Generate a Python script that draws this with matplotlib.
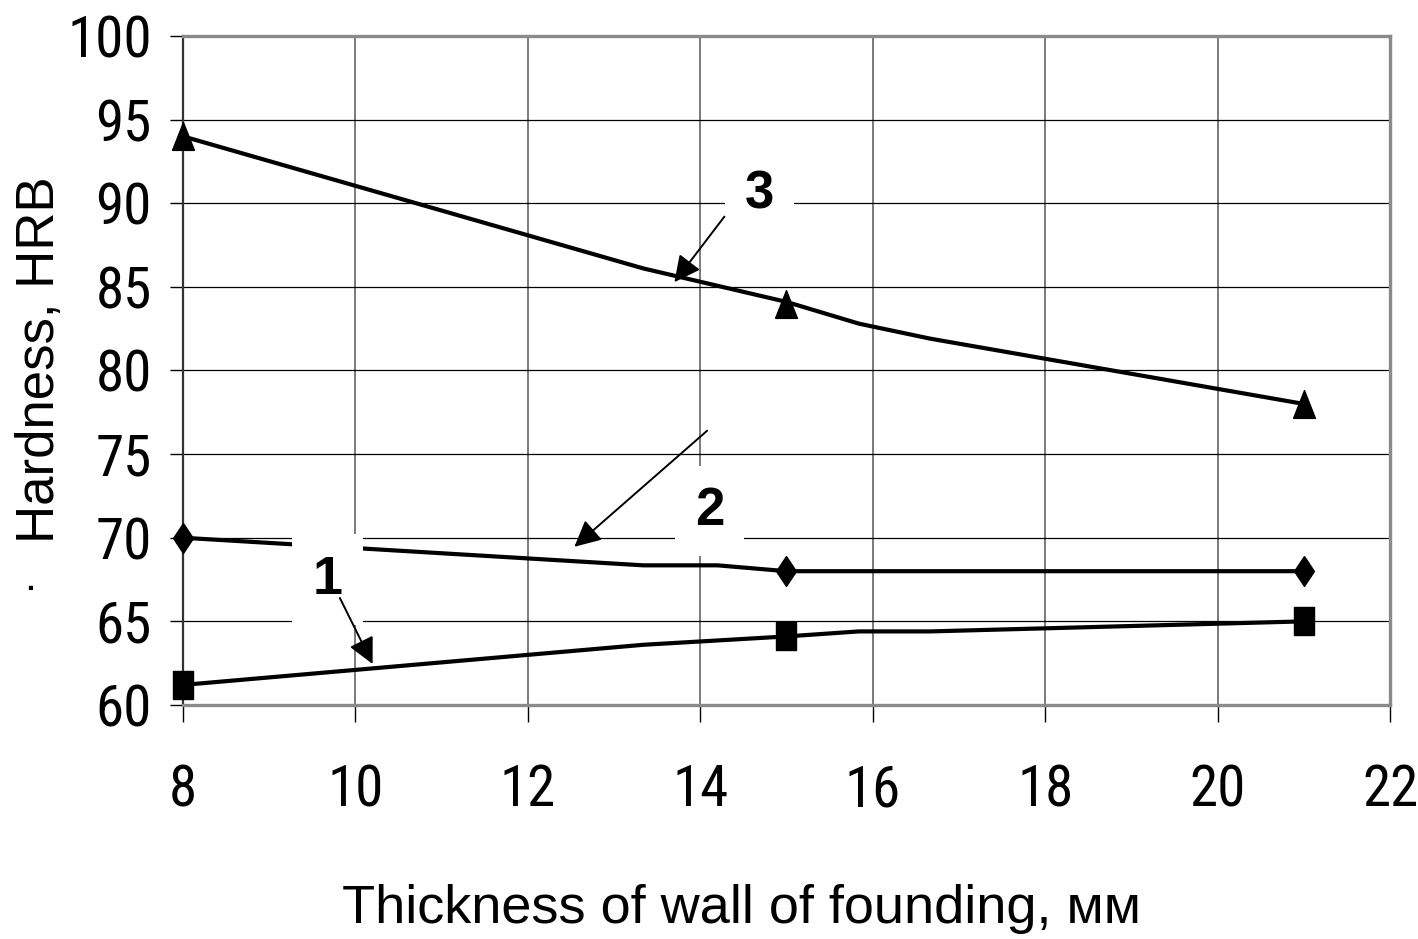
import matplotlib
matplotlib.use('Agg')
import matplotlib.pyplot as plt
from matplotlib import font_manager
from matplotlib.font_manager import FontProperties

# measured points (markers)
x_marks = [8, 15, 21]
hrb_1 = [61.2, 64.1, 65.0]
hrb_2 = [70.0, 68.0, 68.0]
hrb_3 = [94.0, 84.0, 78.0]

# curves as drawn in the original
curve1_x = [8, 13.34, 15, 15.84, 16.67, 21]
curve1_y = [61.2, 63.6, 64.1, 64.4, 64.4, 65.0]
curve2_x = [8, 13.34, 14.2, 15, 21]
curve2_y = [70.0, 68.35, 68.35, 68.0, 68.0]
curve3_x = [8, 13.34, 15, 15.84, 16.67, 21]
curve3_y = [94.0, 86.1, 84.1, 82.8, 81.9, 78.0]

x_ticks = [8, 10, 12, 14, 16, 18, 20, 22]
y_ticks = [60, 65, 70, 75, 80, 85, 90, 95, 100]


def condensed_font():
    # look for any narrow / condensed sans face, the tick digits are condensed
    found = []
    for f in font_manager.fontManager.ttflist:
        narrow = ('Narrow' in f.name or 'Condensed' in f.name
                  or f.stretch in ('condensed', 'semi-condensed', 'extra-condensed'))
        if narrow and f.style == 'normal' and f.weight in (400, 'normal', 'regular', 'book'):
            found.append(f)
    for key in ['Liberation', 'Arial', 'Roboto', 'Noto', 'Open Sans', 'DejaVu']:
        for f in found:
            if key in f.name:
                return f.fname
    return found[0].fname if found else None


plt.rcParams['font.family'] = ['Liberation Sans', 'DejaVu Sans']
cfont = condensed_font()
if cfont:
    tick_fp = FontProperties(fname=cfont, size=41)
else:
    tick_fp = FontProperties(family='Liberation Sans', size=36)

fig = plt.figure(figsize=(14.18, 9.39), dpi=100)
ax = fig.add_axes([0.129, 0.2492, 0.8513, 0.7125])

# tall markers (the original picture is stretched vertically)
sq = [(-1, -1.4), (1, -1.4), (1, 1.4), (-1, 1.4), (-1, -1.4)]
dia = [(0, 1.5), (1, 0), (0, -1.5), (-1, 0), (0, 1.5)]
tri = [(-1, -1.27), (1, -1.27), (0, 1.27), (-1, -1.27)]

lw = 3
ax.plot(curve1_x, curve1_y, color='black', lw=lw, zorder=3, clip_on=False)
ax.plot(curve2_x, curve2_y, color='black', lw=lw, zorder=3, clip_on=False)
ax.plot(curve3_x, curve3_y, color='black', lw=lw, zorder=3, clip_on=False)
ax.plot(x_marks, hrb_1, ls='none', marker=sq, ms=19.5, color='black', zorder=4, clip_on=False)
ax.plot(x_marks, hrb_2, ls='none', marker=dia, ms=21.5, color='black', zorder=4, clip_on=False)
ax.plot(x_marks, hrb_3, ls='none', marker=tri, ms=20, color='black', zorder=4, clip_on=False)

ax.set_xlim(8, 22)
ax.set_ylim(60, 100)
ax.set_xticks(x_ticks)
ax.set_yticks(y_ticks)
ax.set_xticklabels([str(t) for t in x_ticks], fontproperties=tick_fp)
ax.set_yticklabels([str(t) for t in y_ticks], fontproperties=tick_fp)
ax.tick_params(axis='x', direction='out', length=12, width=1, color='black', pad=30)
ax.tick_params(axis='y', direction='out', length=9.5, width=1, color='black', pad=13)

ax.xaxis.grid(True, color='#707070', lw=1.3)
ax.yaxis.grid(True, color='black', lw=0.9)
ax.set_axisbelow(True)

for side in ['top', 'right', 'bottom']:
    ax.spines[side].set_color('#8a8a8a')
    ax.spines[side].set_linewidth(2.4)
ax.spines['left'].set_color('#333333')
ax.spines['left'].set_linewidth(1.6)

# number labels with white boxes
box = dict(boxstyle='square,pad=0.38', fc='white', ec='none')
ax.text(9.68, 67.5, '1', fontsize=39, fontweight='bold', ha='center', va='center', bbox=box, zorder=6)
ax.text(14.11, 71.6, '2', fontsize=38, fontweight='bold', ha='center', va='center', bbox=box, zorder=6)
ax.text(14.69, 90.5, '3', fontsize=38, fontweight='bold', ha='center', va='center', bbox=box, zorder=6)

arrow = dict(arrowstyle='-|>', color='black', lw=1.4, mutation_scale=40, shrinkA=0, shrinkB=0)
ax.annotate('', xy=(10.2, 62.45), xytext=(9.82, 66.4), arrowprops=arrow, zorder=7)
ax.annotate('', xy=(12.54, 69.46), xytext=(14.08, 76.4), arrowprops=arrow, zorder=7)
ax.annotate('', xy=(13.70, 85.28), xytext=(14.28, 89.2), arrowprops=arrow, zorder=7)

fig.text(0.523, 1 - 923 / 939, 'Thickness of wall of founding, мм', fontsize=39,
         ha='center', va='baseline')
fig.text(40 / 1418, 1 - 360 / 939, 'Hardness, HRB', fontsize=38, rotation=90,
         ha='center', va='center')
fig.text(30 / 1418, 1 - 588 / 939, '\u25aa', fontsize=12, ha='center', va='center')

fig.savefig('out.png', dpi=100)
